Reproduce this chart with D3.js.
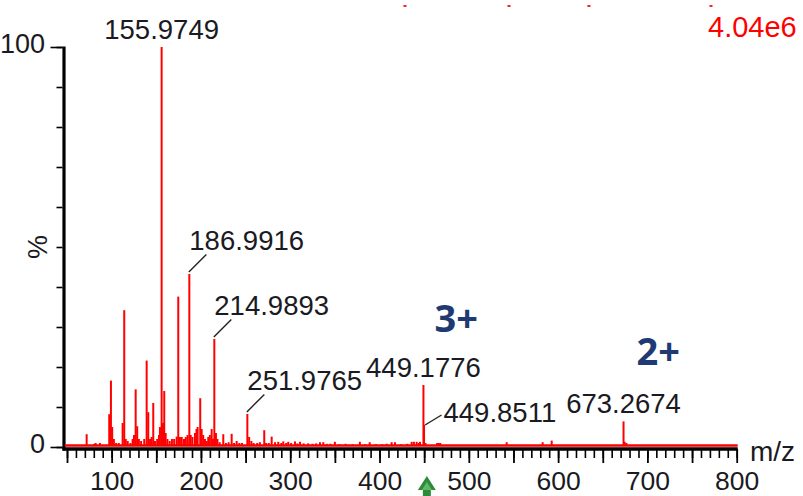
<!DOCTYPE html>
<html>
<head>
<meta charset="utf-8">
<script src="https://cdn.jsdelivr.net/npm/d3@7"></script>
<style>
  html, body { margin: 0; padding: 0; background: #fff; }
  svg { display: block; }
</style>
</head>
<body>
<svg id="chart" width="803" height="496"></svg>
<script>
// Centroided peak list: m/z and relative intensity (% of base peak)
const peakMz = [
  72.0, 80.5, 82.1, 86.9, 97.3, 99.2, 100.6, 102.5, 105.0, 108.0,
  112.3, 114.1, 115.8, 118.0, 121.0, 123.5, 125.0, 126.9, 128.6, 130.5,
  133.0, 136.5, 139.2, 141.0, 143.0, 144.8, 146.6, 148.5, 151.0, 153.0,
  154.1, 155.9749, 157.5, 158.9, 160.5, 162.5, 165.0, 167.5, 170.0, 172.8,
  174.6, 176.5, 178.5, 181.0, 183.0, 185.0, 186.9916, 188.6, 190.5, 193.3,
  195.0, 196.3, 199.2, 200.8, 202.5, 204.5, 206.5, 208.2, 210.0, 212.0,
  213.5, 214.9893, 216.8, 218.5, 221.0, 225.0, 228.0, 231.0, 234.4, 237.0,
  240.0, 243.0, 246.0, 251.9765, 254.0, 256.5, 259.0, 263.0, 266.0, 270.9,
  273.0, 276.0, 279.2, 283.0, 286.6, 290.0, 292.2, 295.5, 297.8, 301.0,
  305.3, 308.0, 311.0, 315.0, 320.0, 325.0, 329.0, 333.3, 337.0, 341.0,
  345.0, 350.0, 355.0, 362.0, 370.0, 378.0, 384.0, 389.0, 396.0, 403.0,
  408.0, 413.6, 417.3, 424.0, 431.0, 436.0, 438.5, 441.6, 444.0, 445.3,
  449.1776, 449.8511, 451.5, 464.5, 466.5, 468.0, 542.4, 582.7, 592.8,
  673.2674, 674.5, 676.5
];
const peakPct = [
  3.2, 0.8, 1.0, 1.0, 8.2, 16.6, 5.0, 2.0, 1.0, 1.0,
  6.0, 34.2, 2.0, 1.5, 1.0, 2.0, 3.0, 14.4, 5.2, 2.0,
  1.5, 2.0, 21.6, 8.7, 2.0, 2.5, 11.0, 1.5, 2.0, 3.0,
  5.0, 100, 6.0, 14.0, 3.5, 2.0, 1.5, 2.0, 2.0, 2.6,
  37.6, 2.5, 2.5, 2.0, 2.5, 3.0, 43.25, 3.0, 2.5, 3.5,
  4.5, 5.0, 12.2, 4.5, 3.0, 2.0, 1.5, 2.5, 3.0, 4.5,
  2.0, 27.0, 3.5, 2.0, 1.2, 3.2, 1.0, 1.2, 3.3, 1.0,
  1.5, 1.0, 1.0, 8.25, 2.5, 1.5, 1.0, 1.0, 1.2, 4.2,
  1.0, 1.0, 2.6, 1.2, 1.3, 1.0, 1.4, 1.0, 1.3, 1.0,
  1.4, 0.9, 1.3, 0.9, 0.9, 0.8, 0.9, 1.2, 1.2, 0.8,
  0.8, 1.3, 0.7, 0.8, 0.7, 1.3, 0.7, 1.2, 0.7, 0.7,
  0.8, 1.2, 1.2, 0.7, 0.8, 1.3, 1.3, 1.3, 1.0, 1.3,
  15.5, 5.5, 1.0, 1.0, 1.0, 1.0, 1.2, 1.2, 1.6,
  6.4, 1.3, 1.0
];

// Annotated peaks
const labelMz = [155.9749, 186.9916, 214.9893, 251.9765, 449.1776, 449.8511, 673.2674];
const labelText = ["155.9749", "186.9916", "214.9893", "251.9765", "449.1776", "449.8511", "673.2674"];

// Charge-state annotations and the peaks they belong to
const chargeLabels = ["3+", "2+"];
const chargePeakMz = [449.1776, 673.2674];

// Axis ticks
const xMajorTicks = [50, 100, 150, 200, 250, 300, 350, 400, 450, 500, 550, 600, 650, 700, 750, 800];
const xTickLabels = [100, 200, 300, 400, 500, 600, 700, 800];
const yMinorTicks = [0, 10, 20, 30, 40, 50, 60, 70, 80, 90, 100];
const yTickLabels = [0, 100];
const basePeakIntensity = "4.04e6";
const xTitle = "m/z";
const yTitle = "%";

// Marker pointing at the triply charged precursor
const arrowMz = 453;
// Residual marks along the top edge
const headerMarkMz = [428.5, 545, 634.5, 771.2];

const svg = d3.select("#chart");
const FONT = "'Liberation Sans', Arial, Helvetica, sans-serif";

const x = d3.scaleLinear().domain([50, 800]).range([67, 736.7]);
const y = d3.scaleLinear().domain([0, 100]).range([447, 47]);

const peaks = peakMz.map((m, i) => ({ mz: m, pct: peakPct[i] }));
const pctAt = m => peaks.find(p => p.mz === m).pct;

// ---- axes ----
const axisY = 449;
const axisX = 64;

// x axis: minor ticks every 10, major every 50, labels every 100
const xMinor = d3.range(50, 801, 10);
svg.append("g")
  .attr("transform", `translate(0,${axisY})`)
  .call(d3.axisBottom(x).tickValues(xMinor).tickSize(9).tickFormat(""))
  .call(g => g.select(".domain").remove())
  .call(g => g.selectAll("line").attr("stroke", "#000").attr("stroke-width", 1.6));

svg.append("g")
  .attr("transform", `translate(0,${axisY})`)
  .call(d3.axisBottom(x).tickValues(xMajorTicks).tickSize(14)
    .tickFormat(d => xTickLabels.includes(d) ? d : ""))
  .call(g => g.select(".domain").remove())
  .call(g => g.selectAll("line").attr("stroke", "#000").attr("stroke-width", 1.8))
  .call(g => g.selectAll("text")
    .attr("y", 41)
    .attr("dy", null)
    .attr("fill", "#1a1a22")
    .style("font-family", FONT)
    .style("font-size", "26.5px"));

// y axis
svg.append("g")
  .attr("transform", `translate(${axisX - 1.5},0)`)
  .call(d3.axisLeft(y).tickValues(yMinorTicks).tickSize(6).tickFormat(""))
  .call(g => g.select(".domain").remove())
  .call(g => g.selectAll("line").attr("stroke", "#000").attr("stroke-width", 1.6));

svg.append("g")
  .attr("transform", `translate(${axisX - 1.5},0)`)
  .call(d3.axisLeft(y).tickValues(yTickLabels).tickSize(12).tickPadding(5.5))
  .call(g => g.select(".domain").remove())
  .call(g => g.selectAll("line").attr("stroke", "#000").attr("stroke-width", 1.6))
  .call(g => g.selectAll("text")
    .attr("dy", "0.32em")
    .attr("y", -3)
    .attr("fill", "#1a1a22")
    .style("font-family", FONT)
    .style("font-size", "27px"));

// axis lines
svg.append("line")
  .attr("x1", axisX).attr("x2", axisX)
  .attr("y1", y(100) - 0.5).attr("y2", axisY + 1.5)
  .attr("stroke", "#000").attr("stroke-width", 3.2);
svg.append("line")
  .attr("x1", axisX - 1.6).attr("x2", x(800) + 1)
  .attr("y1", axisY).attr("y2", axisY)
  .attr("stroke", "#000").attr("stroke-width", 3.6);

// axis titles
svg.append("text")
  .attr("transform", `translate(38,${y(50)}) rotate(-90)`)
  .attr("text-anchor", "middle")
  .attr("dy", "0.35em")
  .attr("fill", "#1a1a22")
  .style("font-family", FONT).style("font-size", "27px")
  .text(yTitle);

svg.append("text")
  .attr("x", 750).attr("y", 461)
  .attr("fill", "#1a1a22")
  .style("font-family", FONT).style("font-size", "28px")
  .text(xTitle);

// ---- spectrum ----
const baseY = y(0) - 1.5;
svg.append("line")
  .attr("x1", axisX + 1).attr("x2", x(800) + 1)
  .attr("y1", baseY).attr("y2", baseY)
  .attr("stroke", "#ff0000").attr("stroke-width", 2.4);

svg.append("g").selectAll("line")
  .data(peaks)
  .join("line")
  .attr("x1", d => x(d.mz)).attr("x2", d => x(d.mz))
  .attr("y1", baseY).attr("y2", d => y(d.pct))
  .attr("stroke", "#ff0000")
  .attr("stroke-width", 2);

// ---- peak labels ----
const placement = {
  "155.9749": "above", "449.1776": "above", "673.2674": "above",
  "186.9916": "leader", "214.9893": "leader", "251.9765": "leader",
  "449.8511": "side"
};
const labelG = svg.append("g")
  .style("font-family", FONT).style("font-size", "27.5px")
  .attr("fill", "#1a1a22");

labelMz.forEach((m, i) => {
  const px = x(m), py = y(pctAt(m));
  const mode = placement[labelText[i]];
  if (mode === "above") {
    labelG.append("text").attr("x", px).attr("y", py - 8)
      .attr("text-anchor", "middle").text(labelText[i]);
  } else if (mode === "leader") {
    labelG.append("line")
      .attr("x1", px - 0.5).attr("y1", py - 2)
      .attr("x2", px + 17).attr("y2", py - 19.5)
      .attr("stroke", "#222").attr("stroke-width", 1.4);
    labelG.append("text").attr("x", px).attr("y", py - 24).text(labelText[i]);
  } else {
    labelG.append("line")
      .attr("x1", px + 1).attr("y1", py)
      .attr("x2", px + 17.5).attr("y2", py - 10)
      .attr("stroke", "#222").attr("stroke-width", 1.4);
    labelG.append("text").attr("x", px + 19.5).attr("y", py - 3).text(labelText[i]);
  }
});

// base peak intensity
svg.append("text")
  .attr("x", 708).attr("y", 37)
  .attr("fill", "#ff0000")
  .style("font-family", FONT).style("font-size", "29px")
  .text(basePeakIntensity);

// residual marks at the top edge
svg.append("g").selectAll("rect")
  .data(headerMarkMz)
  .join("rect")
  .attr("x", d => x(d) - 1.5).attr("y", 5)
  .attr("width", 3).attr("height", 2)
  .attr("fill", "#ff2020");

// ---- charge-state annotations ----
const chargeOffsets = [{ dx: 11, dy: -53 }, { dx: 13, dy: -56 }];
chargeLabels.forEach((c, i) => {
  const m = chargePeakMz[i];
  svg.append("text")
    .attr("x", x(m) + chargeOffsets[i].dx)
    .attr("y", y(pctAt(m)) + chargeOffsets[i].dy)
    .attr("fill", "#1f3a72")
    .style("font-family", "'Open Sans', 'Noto Sans', sans-serif")
    .style("font-weight", 700)
    .style("font-size", "38px")
    .text(c);
});

// ---- green arrow below the axis ----
const ax = x(arrowMz);
svg.append("path")
  .attr("d", `M${ax},476 L${ax + 9},490 L${ax + 4},490 L${ax + 4},497 L${ax - 4},497 L${ax - 4},490 L${ax - 9},490 Z`)
  .attr("fill", "#2e8b3a");
svg.append("path")
  .attr("d", `M${ax},482 L${ax + 5},490 L${ax - 5},490 Z`)
  .attr("fill", "#5fb76a");
</script>
</body>
</html>
